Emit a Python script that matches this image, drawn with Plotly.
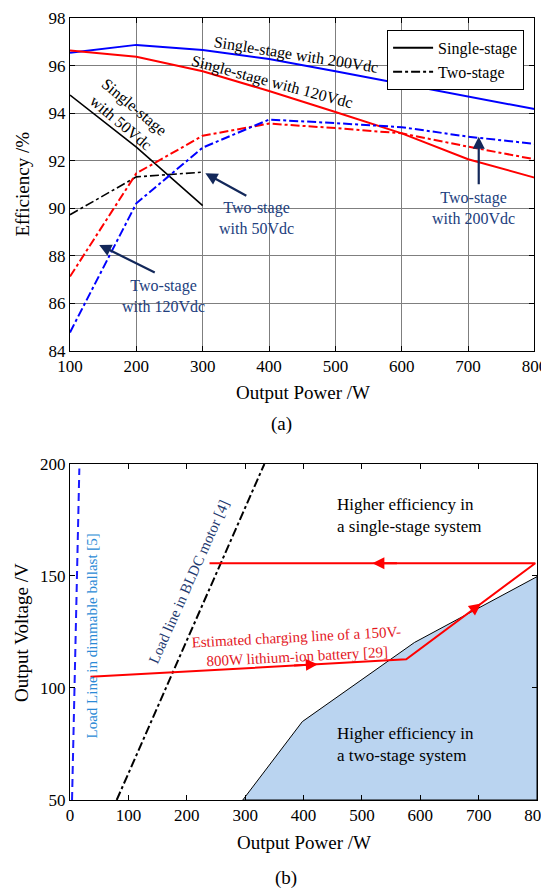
import plotly.graph_objects as go

# ---------------- (a) efficiency data ----------------
power_a = [100, 200, 300, 400, 500, 600, 700, 800]
ss_200 = [96.54, 96.87, 96.65, 96.28, 95.76, 95.23, 94.68, 94.17]
ss_120 = [96.63, 96.37, 95.76, 94.93, 94.05, 93.15, 92.06, 91.29]
power_50 = [100, 200, 300]
ss_50 = [94.76, 92.57, 90.11]
ts_50 = [89.73, 91.32, 91.52]
ts_120 = [87.13, 91.47, 93.05, 93.56, 93.37, 93.15, 92.59, 92.06]
ts_200 = [84.78, 90.21, 92.55, 93.73, 93.58, 93.41, 93.01, 92.71]
x_ticks_a = [100, 200, 300, 400, 500, 600, 700, 800]
y_ticks_a = [84, 86, 88, 90, 92, 94, 96, 98]

# ---------------- (b) operating region data ----------------
ballast_w = [3.5, 16]
ballast_v = [50, 198]
bldc_w = [80, 333]
bldc_v = [50, 200]
charge_w = [35, 576, 797, 239]
charge_v = [105, 112.8, 155.7, 155.7]
region_w = [296, 398, 590, 800, 800, 296]
region_v = [50, 85, 120.3, 149.7, 50, 50]
x_ticks_b = [0, 100, 200, 300, 400, 500, 600, 700, 800]
y_ticks_b = [50, 100, 150, 200]

FONT = "Liberation Serif"
NAVY_T = "#22407e"
NAVY_A = "#13285a"
RED = "#ff0000"
BLUE = "#0000ff"

fig = go.Figure()

# (a) traces
fig.add_trace(go.Scatter(x=power_a, y=ss_200, mode="lines", line=dict(color=BLUE, width=2),
                         showlegend=False, xaxis="x", yaxis="y"))
fig.add_trace(go.Scatter(x=power_a, y=ss_120, mode="lines", line=dict(color=RED, width=2),
                         showlegend=False, xaxis="x", yaxis="y"))
fig.add_trace(go.Scatter(x=power_50, y=ss_50, mode="lines", line=dict(color="black", width=1.6),
                         showlegend=False, xaxis="x", yaxis="y"))
fig.add_trace(go.Scatter(x=power_50, y=ts_50, mode="lines", line=dict(color="black", width=1.6, dash="dashdot"),
                         showlegend=False, xaxis="x", yaxis="y"))
fig.add_trace(go.Scatter(x=power_a, y=ts_120, mode="lines", line=dict(color=RED, width=2, dash="dashdot"),
                         showlegend=False, xaxis="x", yaxis="y"))
fig.add_trace(go.Scatter(x=power_a, y=ts_200, mode="lines", line=dict(color=BLUE, width=2, dash="dashdot"),
                         showlegend=False, xaxis="x", yaxis="y"))
# legend entries
fig.add_trace(go.Scatter(x=[None], y=[None], mode="lines", name="Single-stage",
                         line=dict(color="black", width=2), xaxis="x", yaxis="y"))
fig.add_trace(go.Scatter(x=[None], y=[None], mode="lines", name="Two-stage",
                         line=dict(color="black", width=2, dash="dashdot"), xaxis="x", yaxis="y"))

# (b) traces
fig.add_trace(go.Scatter(x=region_w, y=region_v, mode="lines", fill="toself", fillcolor="#bad4f0",
                         line=dict(color="black", width=1), showlegend=False, xaxis="x2", yaxis="y2"))
fig.add_trace(go.Scatter(x=ballast_w, y=ballast_v, mode="lines",
                         line=dict(color="#1a1aff", width=2, dash="8px,5px"),
                         showlegend=False, xaxis="x2", yaxis="y2"))
fig.add_trace(go.Scatter(x=bldc_w, y=bldc_v, mode="lines",
                         line=dict(color="black", width=2, dash="dashdot"),
                         showlegend=False, xaxis="x2", yaxis="y2"))
fig.add_trace(go.Scatter(x=charge_w, y=charge_v, mode="lines",
                         line=dict(color=RED, width=2), showlegend=False, xaxis="x2", yaxis="y2"))

ann = []
def txt(x, y, s, ref="1", color="black", size=16, angle=0, **kw):
    d = dict(x=x, y=y, text=s, xref="x" + ("" if ref == "1" else ref), yref="y" + ("" if ref == "1" else ref),
             showarrow=False, textangle=angle, font=dict(family=FONT, size=size, color=color))
    d.update(kw)
    ann.append(d)

# (a) labels
txt(441, 96.45, "Single-stage with 200Vdc", angle=9)
txt(404, 95.31, "Single-stage with 120Vdc", angle=15)
txt(187, 93.92, "Single-stage<br>with 50Vdc", angle=40)
txt(381, 89.6, "Two-stage<br>with 50Vdc", color=NAVY_T)
txt(241, 86.32, "Two-stage<br>with 120Vdc", color=NAVY_T)
txt(708, 90.02, "Two-stage<br>with 200Vdc", color=NAVY_T)

def arrow(hx, hy, tx, ty, ref="1", color=NAVY_A, width=2.2, size=1.1, head=2):
    xr = "x" + ("" if ref == "1" else ref)
    yr = "y" + ("" if ref == "1" else ref)
    ann.append(dict(x=hx, y=hy, ax=tx, ay=ty, xref=xr, yref=yr, axref=xr, ayref=yr, text="",
                    showarrow=True, arrowhead=head, arrowsize=size, arrowwidth=width, arrowcolor=color,
                    standoff=0, startstandoff=0))

arrow(304, 91.47, 368, 90.49)
arrow(144, 88.46, 230, 87.27)
arrow(716, 93.01, 716, 90.95)

# (b) labels
txt(454.6, 177, "Higher efficiency in<br>a single-stage system", ref="2", size=17, xanchor="left", align="left")
txt(454.6, 74.6, "Higher efficiency in<br>a two-stage system", ref="2", size=17, xanchor="left", align="left")
txt(389.6, 118.3, "Estimated charging line of a 150V-<br>800W lithium-ion battery [29]", ref="2",
    size=15, color="#e3161e", angle=-3)
txt(38.5, 123.2, "Load Line in dimmable ballast [5]", ref="2", size=15, color="#2b8ad6", angle=-90)
txt(203, 147.5, "Load line in BLDC motor [4]", ref="2", size=15, color="#1f3a70", angle=-66)

# red arrowheads along the charging path, placed by fractions of each segment
def along(i, f):
    return (charge_w[i] + f * (charge_w[i + 1] - charge_w[i]),
            charge_v[i] + f * (charge_v[i + 1] - charge_v[i]))
for i, f in [(0, 0.72), (1, 0.58), (2, 0.50)]:
    hx, hy = along(i, f)
    tx, ty = along(i, f - 0.08)
    arrow(hx, hy, tx, ty, ref="2", color=RED, width=2, size=1.2, head=2)

# axis titles and captions (paper coords)
def ptxt(x, y, s, size=19, angle=0):
    ann.append(dict(x=x, y=y, xref="paper", yref="paper", text=s, showarrow=False, textangle=angle,
                    xanchor="center", yanchor="middle", font=dict(family=FONT, size=size, color="black")))

ptxt(0.498, 0.5208, "Output Power /W")
ptxt(0.4529, 0.4812, "(a)")
ptxt(-0.1006, 0.787, "Efficiency /%", angle=-90)
ptxt(0.502, -0.0546, "Output Power /W")
ptxt(0.4625, -0.0997, "(b)")
ptxt(-0.105, 0.2148, "Output Voltage /V", angle=-90)

axis_common = dict(showline=True, linecolor="black", linewidth=1, mirror="ticks", ticks="inside",
                   ticklen=5, tickcolor="black", zeroline=False, automargin=False,
                   tickfont=dict(family=FONT, size=17, color="black"))

# the page body adds an 8px offset, so margins are shifted to keep the plot areas in place
fig.update_layout(
    width=549, height=880,
    margin=dict(l=62, r=20, t=10, b=88, autoexpand=False),
    paper_bgcolor="white", plot_bgcolor="white",
    font=dict(family=FONT, color="black"),
    xaxis=dict(domain=[0, 0.9946], anchor="y", range=[100, 800], tickvals=x_ticks_a,
               showgrid=True, gridcolor="#7f7f7f", gridwidth=1, **axis_common),
    yaxis=dict(domain=[0.5742, 1.0], anchor="x", range=[84, 98], tickvals=y_ticks_a,
               showgrid=True, gridcolor="#7f7f7f", gridwidth=1, **axis_common),
    xaxis2=dict(domain=[0, 1.0], anchor="y2", range=[0, 800], tickvals=x_ticks_b,
                showgrid=False, **axis_common),
    yaxis2=dict(domain=[0, 0.4297], anchor="x2", range=[50, 200], tickvals=y_ticks_b,
                showgrid=False, **axis_common),
    legend=dict(x=0.679, y=0.9847, xanchor="left", yanchor="top", bgcolor="white",
                bordercolor="black", borderwidth=1, itemwidth=40,
                font=dict(family=FONT, size=16, color="black"), tracegroupgap=0),
    annotations=ann,
)

fig.write_html("out.html")
